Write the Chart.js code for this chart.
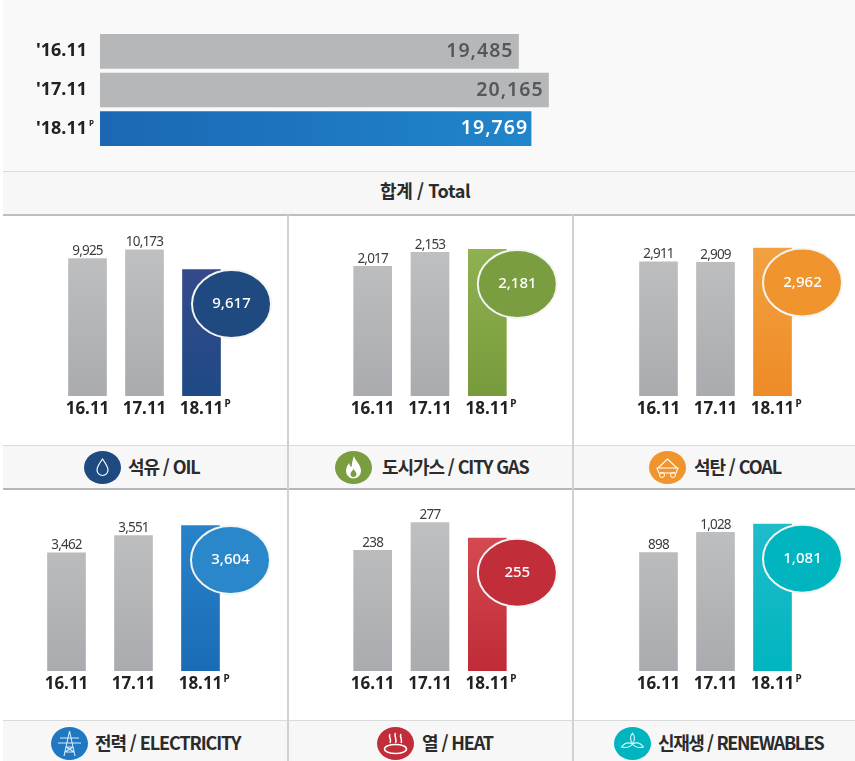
<!DOCTYPE html>
<html lang="ko">
<head>
<meta charset="utf-8">
<script src="https://cdn.jsdelivr.net/npm/chart.js@4"></script>
<style>
html,body{margin:0;padding:0;background:#fff;width:855px;height:761px;overflow:hidden}
#page{position:relative;width:855px;height:761px;overflow:hidden;font-family:"Noto Sans CJK KR","Noto Sans",sans-serif}
.r{position:absolute}
canvas{position:absolute;display:block}
.band{position:absolute;left:3px;width:852px;background:#f7f7f7}
.lab{position:absolute;font-weight:700;font-size:18px;letter-spacing:-1.1px;color:#2b2b2b;white-space:nowrap;line-height:20px}
.ic{position:absolute;border-radius:50%;width:37px;height:33px;display:block}
</style>
</head>
<body>
<div id="page">
  <div class="r" style="left:3px;top:0;width:852px;height:171px;background:#f9f9f9"></div>
  <div class="band" style="top:171px;height:42px;background:#f7f7f7;border-top:1px solid #dcdcdc;border-bottom:2px solid #bdbfc0;box-sizing:content-box"></div>
  <div class="lab" style="left:380px;top:180px;letter-spacing:-0.4px">합계 / Total</div>

  <div class="band" style="top:445px;height:42px;border-top:1px solid #d9dadb;border-bottom:2px solid #b4b6b8"></div>
  <div class="band" style="top:720px;height:41px;border-top:1px solid #d9dadb"></div>

  <div class="r" style="left:287px;top:215px;width:2px;height:546px;background:#d0d1d3"></div>
  <div class="r" style="left:572px;top:215px;width:2px;height:546px;background:#d0d1d3"></div>

  <svg class="ic" style="left:84px;top:451px;background:#1f4a80" viewBox="0 0 37 33"><path d="M18.5 8c3 4.500 5.500 7.500 5.500 11a5.500 5.500 0 0 1-11 0c0-3.500 2.500-6.500 5.500-11z" fill="none" stroke="#fff" stroke-width="1.200"/></svg>
  <div class="lab" style="left:128px;top:456px">석유 / OIL</div>

  <svg class="ic" style="left:335px;top:451px;background:#7a9e3f" viewBox="0 0 37 33"><path d="M19 5c1 5 7 8 7 15a7.500 7.500 0 0 1-15 0c0-4 2-6 3-8 .5 2 1 3 2.500 4 .5-4 1-7 2.500-11z" fill="#fff"/><path d="M18.500 18c1 2 3 3 3 5a3 3 0 0 1-6 0c0-2 2-3 3-5z" fill="#7a9e3f"/></svg>
  <div class="lab" style="left:382px;top:456px">도시가스 / CITY GAS</div>

  <svg class="ic" style="left:649px;top:451px;background:#f0952e" viewBox="0 0 37 33"><path d="M9 17l9.500-9 9.500 9zM8 17h21l-2 5H10z" fill="none" stroke="#fff" stroke-width="1.100"/><circle cx="13" cy="24" r="2.500" fill="none" stroke="#fff"/><circle cx="24" cy="24" r="2.500" fill="none" stroke="#fff"/></svg>
  <div class="lab" style="left:694px;top:456px">석탄 / COAL</div>

  <svg class="ic" style="left:51px;top:727px;background:#1f78c1" viewBox="0 0 37 33"><path d="M18.500 4L13 29M18.500 4L24 29M9 11h19M7 16h23M15 20h7M14 25h9M15 20l8 5M22 20l-8 5" fill="none" stroke="#d9ecf8" stroke-width="1.100"/></svg>
  <div class="lab" style="left:95px;top:732px">전력 / ELECTRICITY</div>

  <svg class="ic" style="left:377px;top:727px;background:#c22d3a" viewBox="0 0 37 33"><path d="M13 7c-2 3 2 5 0 9M18.500 6c-2 3 2 6 0 10M24 7c-2 3 2 5 0 9" fill="none" stroke="#fff" stroke-width="1.500"/><ellipse cx="18.500" cy="22" rx="11" ry="4.500" fill="none" stroke="#fff" stroke-width="1.500"/></svg>
  <div class="lab" style="left:422px;top:732px">열 / HEAT</div>

  <svg class="ic" style="left:614px;top:727px;background:#00b5bf" viewBox="0 0 37 33"><path d="M18.500 6c3 4 2 8 0 11-2-3-3-7 0-11zM18.500 17c4-2 8-1 11 3-4 1-8 1-11-3zM18.500 17c-4-2-8-1-11 3 4 1 8 1 11-3z" fill="none" stroke="#d6f5f6" stroke-width="1.100"/></svg>
  <div class="lab" style="left:658px;top:732px;letter-spacing:-1.4px">신재생 / RENEWABLES</div>
</div>
<script>
// ---- data ----
const periods = ["16.11", "17.11", "18.11"];
const provisionalMark = "P";
const totalPeriods = ["'16.11", "'17.11", "'18.11"];
const totalValues = [19485, 20165, 19769];
const oilValues = [9925, 10173, 9617];
const gasValues = [2017, 2153, 2181];
const coalValues = [2911, 2909, 2962];
const electricityValues = [3462, 3551, 3604];
const heatValues = [238, 277, 255];
const renewableValues = [898, 1028, 1081];

const fmt = v => v.toLocaleString('en-US');
const numFont = '"Noto Sans","Open Sans",sans-serif';
const greyStops = ['#c0c2c3', '#a9abae'];

function gradient(chart, stops) {
  const a = chart.chartArea;
  if (!a) return stops[1];
  const g = chart.ctx.createLinearGradient(0, a.top, 0, a.bottom);
  g.addColorStop(0, stops[0]); g.addColorStop(1, stops[1]);
  return g;
}

// draws value captions, the value bubble and the provisional mark
const panelMarks = {
  id: 'panelMarks',
  afterDatasetsDraw(chart, args, o) {
    const ctx = chart.ctx, bars = chart.getDatasetMeta(0).data, vals = chart.data.datasets[0].data;
    ctx.save();
    ctx.textAlign = 'center';
    bars.forEach((b, i) => {
      if (i < 2) {
        ctx.font = '13.5px ' + numFont;
        ctx.letterSpacing = '-0.8px';
        ctx.fillStyle = '#3c3c3c';
        ctx.textBaseline = 'bottom';
        ctx.fillText(fmt(vals[i]), b.x, b.y - 0.5);
      }
    });
    const last = bars[2], cx = last.x + 30, cy = last.y + 34.5;
    ctx.beginPath();
    ctx.ellipse(cx, cy, 39.5, 34, 0, 0, Math.PI * 2);
    ctx.fillStyle = o.bubble; ctx.fill();
    ctx.lineWidth = 2; ctx.strokeStyle = '#f3f4f4'; ctx.stroke();
    ctx.font = '500 15px ' + numFont;
    ctx.letterSpacing = '0px';
    ctx.fillStyle = '#fff';
    ctx.textBaseline = 'middle';
    ctx.fillText(fmt(vals[2]), cx, cy);
    // superscript after the last tick label
    const xs = chart.scales.x;
    ctx.font = '700 10px ' + numFont;
    ctx.fillStyle = '#222';
    ctx.textAlign = 'left';
    ctx.fillText(provisionalMark, xs.getPixelForTick(2) + 23, xs.top + 8);
    ctx.restore();
  }
};

function panel(id, values, plotLeft, slot, baseY, yMin, yMax, stops, bubble) {
  const plotH = 166, axisH = 32, extra = 48;
  const cv = document.createElement('canvas');
  cv.width = slot * 3 + extra; cv.height = plotH + axisH;
  cv.style.left = plotLeft + 'px'; cv.style.top = (baseY - plotH) + 'px';
  cv.id = id;
  document.getElementById('page').appendChild(cv);
  new Chart(cv, {
    type: 'bar',
    data: { labels: periods, datasets: [{
      data: values,
      barThickness: 38,
      backgroundColor: c => gradient(c.chart, c.dataIndex < 2 ? greyStops : stops)
    }]},
    plugins: [panelMarks],
    options: {
      responsive: false, animation: false,
      layout: { padding: { left: 0, right: extra, top: 0, bottom: 0 } },
      plugins: { legend: { display: false }, tooltip: { enabled: false }, panelMarks: { bubble } },
      scales: {
        x: { grid: { display: false, drawTicks: false }, border: { display: false },
             afterFit: s => { s.height = axisH; },
             ticks: { color: '#222', padding: 3, autoSkip: false, maxRotation: 0,
                      font: { family: numFont, size: 17, weight: '700' } } },
        y: { display: false, min: yMin, max: yMax }
      }
    }
  });
}

panel('oil', oilValues, 58.5, 57, 396, 6036, 10736, ['#3c4a8c', '#1e4a85'], '#1f4a80');
panel('gas', gasValues, 344, 57.5, 396, 757, 2370, ['#93b354', '#779b3c'], '#7a9e3f');
panel('coal', coalValues, 629.5, 57, 396, 2414, 3029, ['#f2a443', '#ee8b27'], '#f0952e');
panel('electricity', electricityValues, 32.5, 67, 671, 2850, 3710, ['#2a86cd', '#1a6bb6'], '#2a87c9');
panel('heat', heatValues, 344, 57.5, 671, 67, 302, ['#da5158', '#bf2b36'], '#c22d3a');
panel('renewables', renewableValues, 629.5, 57, 671, 132, 1205, ['#24bdcd', '#00b5bf'], '#00b5bf');

// total chart
const totalMarks = {
  id: 'totalMarks',
  afterDatasetsDraw(chart) {
    const ctx = chart.ctx, bars = chart.getDatasetMeta(0).data;
    ctx.save();
    ctx.textAlign = 'right'; ctx.textBaseline = 'middle';
    ctx.font = '600 19.5px ' + numFont;
    ctx.letterSpacing = '1px';
    bars.forEach((b, i) => {
      ctx.fillStyle = i === 2 ? '#fff' : '#555759';
      ctx.fillText(fmt(totalValues[i]), b.x - (i === 2 ? 3 : 5), b.y);
    });
    ctx.letterSpacing = '0px';
    ctx.font = '700 8px ' + numFont;
    ctx.fillStyle = '#222'; ctx.textAlign = 'left';
    ctx.fillText(provisionalMark, chart.scales.y.right - 11, bars[2].y - 5);
    ctx.restore();
  }
};
(function () {
  const cv = document.createElement('canvas');
  cv.width = 570; cv.height = 116;
  cv.style.left = '30px'; cv.style.top = '31.5px';
  cv.id = 'total';
  document.getElementById('page').appendChild(cv);
  new Chart(cv, {
    type: 'bar',
    data: { labels: totalPeriods, datasets: [{
      data: totalValues,
      barThickness: 34,
      backgroundColor: c => {
        if (c.dataIndex < 2) return '#b5b7b8';
        const a = c.chart.chartArea;
        if (!a) return '#1f78c1';
        const g = c.chart.ctx.createLinearGradient(a.left, 0, a.left + 437, 0);
        g.addColorStop(0, '#1b67b4'); g.addColorStop(1, '#2086cc');
        return g;
      }
    }]},
    plugins: [totalMarks],
    options: {
      indexAxis: 'y', responsive: false, animation: false,
      layout: { padding: 0 },
      plugins: { legend: { display: false }, tooltip: { enabled: false } },
      scales: {
        x: { display: false, min: 10004, max: 21331 },
        y: { grid: { display: false, drawTicks: false }, border: { display: false },
             afterFit: s => { s.width = 70; s.paddingTop = 0; s.paddingBottom = 0; },
             ticks: { color: '#222', padding: 13, autoSkip: false,
                      font: { family: numFont, size: 18, weight: '700' } } }
      }
    }
  });
})();
</script>
</body>
</html>
